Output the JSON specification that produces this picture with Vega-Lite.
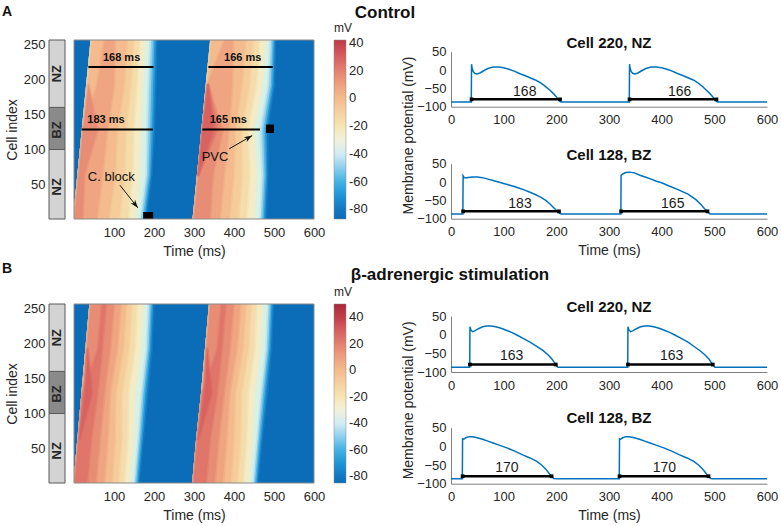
{
"$schema": "https://vega.github.io/schema/vega-lite/v6.json",
"padding": {"left": 2, "top": 4, "right": 2, "bottom": 2},
"config": {
 "font": "Liberation Sans",
 "view": {"stroke": null},
 "axis": {"labelColor": "#262626", "titleColor": "#262626", "labelFontSize": 13, "titleFontSize": 14, "titleFontWeight": "normal", "grid": false, "domainColor": "#808080", "tickColor": "#808080"},
 "legend": {"labelColor": "#262626", "titleColor": "#262626"},
 "title": {"color": "#111111"}
},
"datasets": {
 "zones": [
  {"c": 1, "c2": 100, "z": "NZ", "m": 47},
  {"c": 100, "c2": 160, "z": "BZ", "m": 128},
  {"c": 160, "c2": 256, "z": "NZ", "m": 208}
 ],
 "bg": [
  {"p": "A", "t": 0, "t2": 600, "c": 1, "c2": 256, "v": -87},
  {"p": "B", "t": 0, "t2": 600, "c": 1, "c2": 256, "v": -85}
 ],
 "heat": [
  {"p":"A","b":1,"v":-75,"c":1,"t":1,"t2":179},{"p":"A","b":1,"v":-75,"c":64,"t":12,"t2":193},{"p":"A","b":1,"v":-75,"c":128,"t":23,"t2":200},{"p":"A","b":1,"v":-75,"c":192,"t":34,"t2":203},{"p":"A","b":1,"v":-75,"c":256,"t":45,"t2":205.5},
  {"p":"A","b":1,"v":-65,"c":1,"t":1,"t2":175},{"p":"A","b":1,"v":-65,"c":64,"t":12,"t2":189.5},{"p":"A","b":1,"v":-65,"c":128,"t":23,"t2":195},{"p":"A","b":1,"v":-65,"c":192,"t":34,"t2":198},{"p":"A","b":1,"v":-65,"c":256,"t":45,"t2":201},
  {"p":"A","b":1,"v":-55,"c":1,"t":1,"t2":171.7},{"p":"A","b":1,"v":-55,"c":64,"t":12,"t2":186.6},{"p":"A","b":1,"v":-55,"c":128,"t":23,"t2":190.8},{"p":"A","b":1,"v":-55,"c":192,"t":34,"t2":193.8},{"p":"A","b":1,"v":-55,"c":256,"t":45,"t2":197.7},
  {"p":"A","b":1,"v":-45,"c":1,"t":1,"t2":167.4},{"p":"A","b":1,"v":-45,"c":64,"t":12,"t2":182.4},{"p":"A","b":1,"v":-45,"c":128,"t":23,"t2":185.6},{"p":"A","b":1,"v":-45,"c":192,"t":34,"t2":188.6},{"p":"A","b":1,"v":-45,"c":256,"t":45,"t2":193},
  {"p":"A","b":1,"v":-35,"c":1,"t":1,"t2":163},{"p":"A","b":1,"v":-35,"c":64,"t":12,"t2":178},{"p":"A","b":1,"v":-35,"c":128,"t":23,"t2":180},{"p":"A","b":1,"v":-35,"c":192,"t":34,"t2":183},{"p":"A","b":1,"v":-35,"c":256,"t":45,"t2":188},
  {"p":"A","b":1,"v":-25,"c":1,"t":1,"t2":153},{"p":"A","b":1,"v":-25,"c":64,"t":12,"t2":163},{"p":"A","b":1,"v":-25,"c":128,"t":23,"t2":165.7},{"p":"A","b":1,"v":-25,"c":192,"t":34,"t2":170.5},{"p":"A","b":1,"v":-25,"c":256,"t":45,"t2":177.2},
  {"p":"A","b":1,"v":-16,"c":1,"t":1,"t2":135},{"p":"A","b":1,"v":-16,"c":64,"t":12,"t2":145.5},{"p":"A","b":1,"v":-16,"c":128,"t":23,"t2":148},{"p":"A","b":1,"v":-16,"c":192,"t":34,"t2":156},{"p":"A","b":1,"v":-16,"c":256,"t":45,"t2":163},
  {"p":"A","b":1,"v":-8,"c":1,"t":1,"t2":113},{"p":"A","b":1,"v":-8,"c":64,"t":12,"t2":126.4},{"p":"A","b":1,"v":-8,"c":128,"t":23,"t2":129.1},{"p":"A","b":1,"v":-8,"c":192,"t":34,"t2":141.7},{"p":"A","b":1,"v":-8,"c":256,"t":45,"t2":148.5},
  {"p":"A","b":1,"v":0,"c":1,"t":1,"t2":86},{"p":"A","b":1,"v":0,"c":64,"t":12,"t2":102.5},{"p":"A","b":1,"v":0,"c":128,"t":23,"t2":107},{"p":"A","b":1,"v":0,"c":192,"t":34,"t2":125},{"p":"A","b":1,"v":0,"c":256,"t":45,"t2":131.9},
  {"p":"A","b":1,"v":8,"c":1,"t":1,"t2":56.5},{"p":"A","b":1,"v":8,"c":64,"t":12,"t2":71.1},{"p":"A","b":1,"v":8,"c":128,"t":23,"t2":83},{"p":"A","b":1,"v":8,"c":192,"t":58.3,"t2":100},{"p":"A","b":1,"v":8,"c":256,"t":76.7,"t2":101.7},
  {"p":"A","b":1,"v":16,"c":1,"t":1,"t2":21},{"p":"A","b":1,"v":16,"c":64,"t":12,"t2":26},{"p":"A","b":1,"v":16,"c":128,"t":23,"t2":59},{"p":"A","b":1,"v":16,"c":192,"t":36,"t2":36},
  {"p":"A","b":2,"v":-75,"c":1,"t":300,"t2":478.5},{"p":"A","b":2,"v":-75,"c":64,"t":311,"t2":483.5},{"p":"A","b":2,"v":-75,"c":128,"t":322,"t2":483},{"p":"A","b":2,"v":-75,"c":192,"t":333,"t2":499.5},{"p":"A","b":2,"v":-75,"c":256,"t":344,"t2":502.5},
  {"p":"A","b":2,"v":-65,"c":1,"t":300,"t2":474.2},{"p":"A","b":2,"v":-65,"c":64,"t":311,"t2":479.5},{"p":"A","b":2,"v":-65,"c":128,"t":322,"t2":478},{"p":"A","b":2,"v":-65,"c":192,"t":333,"t2":495.3},{"p":"A","b":2,"v":-65,"c":256,"t":344,"t2":498.7},
  {"p":"A","b":2,"v":-55,"c":1,"t":300,"t2":470.7},{"p":"A","b":2,"v":-55,"c":64,"t":311,"t2":476.6},{"p":"A","b":2,"v":-55,"c":128,"t":322,"t2":474},{"p":"A","b":2,"v":-55,"c":192,"t":333,"t2":492},{"p":"A","b":2,"v":-55,"c":256,"t":344,"t2":496},
  {"p":"A","b":2,"v":-45,"c":1,"t":300,"t2":466.9},{"p":"A","b":2,"v":-45,"c":64,"t":311,"t2":472.4},{"p":"A","b":2,"v":-45,"c":128,"t":322,"t2":469},{"p":"A","b":2,"v":-45,"c":192,"t":333,"t2":488.1},{"p":"A","b":2,"v":-45,"c":256,"t":344,"t2":492.7},
  {"p":"A","b":2,"v":-35,"c":1,"t":300,"t2":463},{"p":"A","b":2,"v":-35,"c":64,"t":311,"t2":468},{"p":"A","b":2,"v":-35,"c":128,"t":322,"t2":462.4},{"p":"A","b":2,"v":-35,"c":192,"t":333,"t2":482.6},{"p":"A","b":2,"v":-35,"c":256,"t":344,"t2":488},
  {"p":"A","b":2,"v":-25,"c":1,"t":300,"t2":450},{"p":"A","b":2,"v":-25,"c":64,"t":311,"t2":456.2},{"p":"A","b":2,"v":-25,"c":128,"t":322,"t2":448.9},{"p":"A","b":2,"v":-25,"c":192,"t":333,"t2":470},{"p":"A","b":2,"v":-25,"c":256,"t":344,"t2":478},
  {"p":"A","b":2,"v":-16,"c":1,"t":300,"t2":430},{"p":"A","b":2,"v":-16,"c":64,"t":311,"t2":438.6},{"p":"A","b":2,"v":-16,"c":128,"t":322,"t2":433.1},{"p":"A","b":2,"v":-16,"c":192,"t":333,"t2":455},{"p":"A","b":2,"v":-16,"c":256,"t":344,"t2":463},
  {"p":"A","b":2,"v":-8,"c":1,"t":300,"t2":410},{"p":"A","b":2,"v":-8,"c":64,"t":311,"t2":420},{"p":"A","b":2,"v":-8,"c":128,"t":322,"t2":418},{"p":"A","b":2,"v":-8,"c":192,"t":333,"t2":438.3},{"p":"A","b":2,"v":-8,"c":256,"t":344,"t2":447.5},
  {"p":"A","b":2,"v":0,"c":1,"t":300,"t2":388},{"p":"A","b":2,"v":0,"c":64,"t":311,"t2":399},{"p":"A","b":2,"v":0,"c":128,"t":322,"t2":402},{"p":"A","b":2,"v":0,"c":192,"t":333,"t2":419.1},{"p":"A","b":2,"v":0,"c":256,"t":344,"t2":428.8},
  {"p":"A","b":2,"v":8,"c":1,"t":300,"t2":363.8},{"p":"A","b":2,"v":8,"c":64,"t":311,"t2":375},{"p":"A","b":2,"v":8,"c":128,"t":322,"t2":386.5},{"p":"A","b":2,"v":8,"c":192,"t":333,"t2":395},{"p":"A","b":2,"v":8,"c":256,"t":376.7,"t2":397.5},
  {"p":"A","b":2,"v":16,"c":1,"t":300,"t2":339.2},{"p":"A","b":2,"v":16,"c":64,"t":311,"t2":347},{"p":"A","b":2,"v":16,"c":128,"t":322,"t2":371.7},{"p":"A","b":2,"v":16,"c":192,"t":335,"t2":335},
  {"p":"A","b":2,"v":23,"c":64,"t":311,"t2":311},{"p":"A","b":2,"v":23,"c":128,"t":322,"t2":358.3},{"p":"A","b":2,"v":23,"c":192,"t":335,"t2":335},
  {"p":"A","b":2,"v":29,"c":64,"t":311,"t2":311},{"p":"A","b":2,"v":29,"c":128,"t":322,"t2":348.3},{"p":"A","b":2,"v":29,"c":192,"t":335,"t2":335},
  {"p":"B","b":1,"v":-75,"c":1,"t":2,"t2":161},{"p":"B","b":1,"v":-75,"c":64,"t":12,"t2":172},{"p":"B","b":1,"v":-75,"c":128,"t":22,"t2":183},{"p":"B","b":1,"v":-75,"c":192,"t":32,"t2":193.5},{"p":"B","b":1,"v":-75,"c":256,"t":42,"t2":198},
  {"p":"B","b":1,"v":-65,"c":1,"t":2,"t2":157.7},{"p":"B","b":1,"v":-65,"c":64,"t":12,"t2":168.3},{"p":"B","b":1,"v":-65,"c":128,"t":22,"t2":178},{"p":"B","b":1,"v":-65,"c":192,"t":32,"t2":189.3},{"p":"B","b":1,"v":-65,"c":256,"t":42,"t2":194.3},
  {"p":"B","b":1,"v":-55,"c":1,"t":2,"t2":155},{"p":"B","b":1,"v":-55,"c":64,"t":12,"t2":165},{"p":"B","b":1,"v":-55,"c":128,"t":22,"t2":174},{"p":"B","b":1,"v":-55,"c":192,"t":32,"t2":186},{"p":"B","b":1,"v":-55,"c":256,"t":42,"t2":191},
  {"p":"B","b":1,"v":-45,"c":1,"t":2,"t2":151.5},{"p":"B","b":1,"v":-45,"c":64,"t":12,"t2":161.5},{"p":"B","b":1,"v":-45,"c":128,"t":22,"t2":170},{"p":"B","b":1,"v":-45,"c":192,"t":32,"t2":182.7},{"p":"B","b":1,"v":-45,"c":256,"t":42,"t2":187.7},
  {"p":"B","b":1,"v":-35,"c":1,"t":2,"t2":148},{"p":"B","b":1,"v":-35,"c":64,"t":12,"t2":158},{"p":"B","b":1,"v":-35,"c":128,"t":22,"t2":166},{"p":"B","b":1,"v":-35,"c":192,"t":32,"t2":178},{"p":"B","b":1,"v":-35,"c":256,"t":42,"t2":183.3},
  {"p":"B","b":1,"v":-25,"c":1,"t":2,"t2":138.7},{"p":"B","b":1,"v":-25,"c":64,"t":12,"t2":148},{"p":"B","b":1,"v":-25,"c":128,"t":22,"t2":151.7},{"p":"B","b":1,"v":-25,"c":192,"t":32,"t2":166.3},{"p":"B","b":1,"v":-25,"c":256,"t":42,"t2":172},
  {"p":"B","b":1,"v":-16,"c":1,"t":2,"t2":125},{"p":"B","b":1,"v":-16,"c":64,"t":12,"t2":133.3},{"p":"B","b":1,"v":-16,"c":128,"t":22,"t2":135},{"p":"B","b":1,"v":-16,"c":192,"t":32,"t2":151.4},{"p":"B","b":1,"v":-16,"c":256,"t":42,"t2":156.7},
  {"p":"B","b":1,"v":-8,"c":1,"t":2,"t2":110.8},{"p":"B","b":1,"v":-8,"c":64,"t":12,"t2":118.8},{"p":"B","b":1,"v":-8,"c":128,"t":22,"t2":119},{"p":"B","b":1,"v":-8,"c":192,"t":32,"t2":137.1},{"p":"B","b":1,"v":-8,"c":256,"t":42,"t2":143.6},
  {"p":"B","b":1,"v":0,"c":1,"t":2,"t2":94.2},{"p":"B","b":1,"v":0,"c":64,"t":12,"t2":102.1},{"p":"B","b":1,"v":0,"c":128,"t":22,"t2":103.3},{"p":"B","b":1,"v":0,"c":192,"t":32,"t2":122.5},{"p":"B","b":1,"v":0,"c":256,"t":42,"t2":130.3},
  {"p":"B","b":1,"v":8,"c":1,"t":2,"t2":75},{"p":"B","b":1,"v":8,"c":64,"t":12,"t2":83.8},{"p":"B","b":1,"v":8,"c":128,"t":22,"t2":89.3},{"p":"B","b":1,"v":8,"c":192,"t":32,"t2":107.5},{"p":"B","b":1,"v":8,"c":256,"t":42,"t2":116.8},
  {"p":"B","b":1,"v":16,"c":1,"t":2,"t2":54},{"p":"B","b":1,"v":16,"c":64,"t":12,"t2":64.5},{"p":"B","b":1,"v":16,"c":128,"t":22,"t2":75.3},{"p":"B","b":1,"v":16,"c":192,"t":32,"t2":90},{"p":"B","b":1,"v":16,"c":256,"t":42,"t2":100},
  {"p":"B","b":1,"v":23,"c":1,"t":2,"t2":32.7},{"p":"B","b":1,"v":23,"c":64,"t":12,"t2":42.7},{"p":"B","b":1,"v":23,"c":128,"t":22,"t2":58.5},{"p":"B","b":1,"v":23,"c":192,"t":60,"t2":70},{"p":"B","b":1,"v":23,"c":256,"t":70,"t2":80},
  {"p":"B","b":1,"v":29,"c":64,"t":14,"t2":14},{"p":"B","b":1,"v":29,"c":128,"t":28,"t2":44.6},{"p":"B","b":1,"v":29,"c":192,"t":34,"t2":34},
  {"p":"B","b":2,"v":-75,"c":1,"t":299,"t2":458},{"p":"B","b":2,"v":-75,"c":64,"t":309,"t2":469},{"p":"B","b":2,"v":-75,"c":128,"t":321,"t2":482},{"p":"B","b":2,"v":-75,"c":192,"t":331,"t2":492.5},{"p":"B","b":2,"v":-75,"c":256,"t":341,"t2":497},
  {"p":"B","b":2,"v":-65,"c":1,"t":299,"t2":454.7},{"p":"B","b":2,"v":-65,"c":64,"t":309,"t2":465.3},{"p":"B","b":2,"v":-65,"c":128,"t":321,"t2":477},{"p":"B","b":2,"v":-65,"c":192,"t":331,"t2":488.3},{"p":"B","b":2,"v":-65,"c":256,"t":341,"t2":493.3},
  {"p":"B","b":2,"v":-55,"c":1,"t":299,"t2":452},{"p":"B","b":2,"v":-55,"c":64,"t":309,"t2":462},{"p":"B","b":2,"v":-55,"c":128,"t":321,"t2":473},{"p":"B","b":2,"v":-55,"c":192,"t":331,"t2":485},{"p":"B","b":2,"v":-55,"c":256,"t":341,"t2":490},
  {"p":"B","b":2,"v":-45,"c":1,"t":299,"t2":448.5},{"p":"B","b":2,"v":-45,"c":64,"t":309,"t2":458.5},{"p":"B","b":2,"v":-45,"c":128,"t":321,"t2":469},{"p":"B","b":2,"v":-45,"c":192,"t":331,"t2":481.7},{"p":"B","b":2,"v":-45,"c":256,"t":341,"t2":486.7},
  {"p":"B","b":2,"v":-35,"c":1,"t":299,"t2":445},{"p":"B","b":2,"v":-35,"c":64,"t":309,"t2":455},{"p":"B","b":2,"v":-35,"c":128,"t":321,"t2":465},{"p":"B","b":2,"v":-35,"c":192,"t":331,"t2":477},{"p":"B","b":2,"v":-35,"c":256,"t":341,"t2":482.3},
  {"p":"B","b":2,"v":-25,"c":1,"t":299,"t2":435.7},{"p":"B","b":2,"v":-25,"c":64,"t":309,"t2":445},{"p":"B","b":2,"v":-25,"c":128,"t":321,"t2":450.7},{"p":"B","b":2,"v":-25,"c":192,"t":331,"t2":465.3},{"p":"B","b":2,"v":-25,"c":256,"t":341,"t2":471},
  {"p":"B","b":2,"v":-16,"c":1,"t":299,"t2":422},{"p":"B","b":2,"v":-16,"c":64,"t":309,"t2":430.3},{"p":"B","b":2,"v":-16,"c":128,"t":321,"t2":434},{"p":"B","b":2,"v":-16,"c":192,"t":331,"t2":450.4},{"p":"B","b":2,"v":-16,"c":256,"t":341,"t2":455.7},
  {"p":"B","b":2,"v":-8,"c":1,"t":299,"t2":407.8},{"p":"B","b":2,"v":-8,"c":64,"t":309,"t2":415.8},{"p":"B","b":2,"v":-8,"c":128,"t":321,"t2":418},{"p":"B","b":2,"v":-8,"c":192,"t":331,"t2":436.1},{"p":"B","b":2,"v":-8,"c":256,"t":341,"t2":442.6},
  {"p":"B","b":2,"v":0,"c":1,"t":299,"t2":391.2},{"p":"B","b":2,"v":0,"c":64,"t":309,"t2":399.1},{"p":"B","b":2,"v":0,"c":128,"t":321,"t2":402.3},{"p":"B","b":2,"v":0,"c":192,"t":331,"t2":421.5},{"p":"B","b":2,"v":0,"c":256,"t":341,"t2":429.3},
  {"p":"B","b":2,"v":8,"c":1,"t":299,"t2":372},{"p":"B","b":2,"v":8,"c":64,"t":309,"t2":380.8},{"p":"B","b":2,"v":8,"c":128,"t":321,"t2":388.3},{"p":"B","b":2,"v":8,"c":192,"t":331,"t2":406.5},{"p":"B","b":2,"v":8,"c":256,"t":341,"t2":415.8},
  {"p":"B","b":2,"v":16,"c":1,"t":299,"t2":351},{"p":"B","b":2,"v":16,"c":64,"t":309,"t2":361.5},{"p":"B","b":2,"v":16,"c":128,"t":321,"t2":374.3},{"p":"B","b":2,"v":16,"c":192,"t":331,"t2":389},{"p":"B","b":2,"v":16,"c":256,"t":341,"t2":399},
  {"p":"B","b":2,"v":23,"c":1,"t":299,"t2":329.7},{"p":"B","b":2,"v":23,"c":64,"t":309,"t2":339.7},{"p":"B","b":2,"v":23,"c":128,"t":321,"t2":357.5},{"p":"B","b":2,"v":23,"c":192,"t":359,"t2":369},{"p":"B","b":2,"v":23,"c":256,"t":369,"t2":379},
  {"p":"B","b":2,"v":29,"c":64,"t":311,"t2":311},{"p":"B","b":2,"v":29,"c":128,"t":327,"t2":343.6},{"p":"B","b":2,"v":29,"c":192,"t":333,"t2":333}
 ],
 "apd": [
  {"t": 36, "t2": 199, "c": 217.5},
  {"t": 336, "t2": 497, "c": 217.5},
  {"t": 19, "t2": 197, "c": 128.6},
  {"t": 321, "t2": 465, "c": 128.6}
 ],
 "apdlab": [
  {"t": 119, "c": 230.6, "s": "168 ms"},
  {"t": 421.7, "c": 230.6, "s": "166 ms"},
  {"t": 80, "c": 142.3, "s": "183 ms"},
  {"t": 385.8, "c": 142.3, "s": "165 ms"}
 ],
 "notes": [
  {"t": 93.3, "c": 60.8, "s": "C. block"},
  {"t": 352.5, "c": 89.3, "s": "PVC"}
 ],
 "blocks": [
  {"t": 173, "t2": 198, "c": 1, "c2": 11},
  {"t": 480, "t2": 500, "c": 123.5, "c2": 135.5}
 ],
 "arrows": [
  {"id": "cb", "t": 115, "c": 49, "t2": 159.5, "c2": 17},
  {"id": "pvc", "t": 388, "c": 101, "t2": 445.5, "c2": 119.8}
 ],
 "traces": [
  {"p":"A220","t":0,"v":-87},{"p":"A220","t":38.5,"v":-87},{"p":"A220","t":39,"v":16},{"p":"A220","t":40,"v":6},{"p":"A220","t":42,"v":-4},{"p":"A220","t":45,"v":-9},{"p":"A220","t":49,"v":-11},{"p":"A220","t":55,"v":-8},{"p":"A220","t":62,"v":-2},{"p":"A220","t":70,"v":4},{"p":"A220","t":80,"v":8},{"p":"A220","t":90,"v":8},{"p":"A220","t":100,"v":6},{"p":"A220","t":110,"v":2},{"p":"A220","t":120,"v":-3},{"p":"A220","t":131,"v":-10},{"p":"A220","t":140,"v":-15},{"p":"A220","t":150,"v":-21},{"p":"A220","t":160,"v":-27},{"p":"A220","t":169,"v":-34},{"p":"A220","t":178,"v":-43},{"p":"A220","t":188,"v":-55},{"p":"A220","t":195,"v":-65},{"p":"A220","t":201,"v":-75},{"p":"A220","t":205,"v":-83},{"p":"A220","t":209,"v":-87},
  {"p":"A220","t":338.5,"v":-87},{"p":"A220","t":339,"v":16},{"p":"A220","t":340,"v":6},{"p":"A220","t":342,"v":-4},{"p":"A220","t":345,"v":-9},{"p":"A220","t":349,"v":-11},{"p":"A220","t":355,"v":-8},{"p":"A220","t":362,"v":-2},{"p":"A220","t":370,"v":4},{"p":"A220","t":380,"v":8},{"p":"A220","t":390,"v":8},{"p":"A220","t":400,"v":6},{"p":"A220","t":410,"v":2},{"p":"A220","t":420,"v":-3},{"p":"A220","t":431,"v":-10},{"p":"A220","t":440,"v":-15},{"p":"A220","t":450,"v":-21},{"p":"A220","t":460,"v":-27},{"p":"A220","t":468,"v":-34},{"p":"A220","t":476,"v":-43},{"p":"A220","t":485,"v":-55},{"p":"A220","t":492,"v":-65},{"p":"A220","t":498,"v":-75},{"p":"A220","t":502,"v":-83},{"p":"A220","t":506,"v":-87},{"p":"A220","t":600,"v":-87},
  {"p":"A128","t":0,"v":-87},{"p":"A128","t":22.5,"v":-87},{"p":"A128","t":23,"v":17},{"p":"A128","t":25,"v":12},{"p":"A128","t":30,"v":12},{"p":"A128","t":40,"v":14},{"p":"A128","t":50,"v":14},{"p":"A128","t":60,"v":12},{"p":"A128","t":70,"v":8},{"p":"A128","t":80,"v":4},{"p":"A128","t":90,"v":0},{"p":"A128","t":100,"v":-4},{"p":"A128","t":110,"v":-8},{"p":"A128","t":120,"v":-12},{"p":"A128","t":130,"v":-17},{"p":"A128","t":140,"v":-22},{"p":"A128","t":150,"v":-28},{"p":"A128","t":160,"v":-34},{"p":"A128","t":170,"v":-41},{"p":"A128","t":180,"v":-50},{"p":"A128","t":188,"v":-60},{"p":"A128","t":195,"v":-70},{"p":"A128","t":200,"v":-77},{"p":"A128","t":205,"v":-84},{"p":"A128","t":209,"v":-87},
  {"p":"A128","t":322.5,"v":-87},{"p":"A128","t":323,"v":18},{"p":"A128","t":326,"v":22},{"p":"A128","t":332,"v":26},{"p":"A128","t":340,"v":27},{"p":"A128","t":348,"v":25},{"p":"A128","t":360,"v":18},{"p":"A128","t":370,"v":13},{"p":"A128","t":380,"v":8},{"p":"A128","t":390,"v":2},{"p":"A128","t":400,"v":-2},{"p":"A128","t":413,"v":-10},{"p":"A128","t":430,"v":-20},{"p":"A128","t":450,"v":-33},{"p":"A128","t":465,"v":-48},{"p":"A128","t":475,"v":-62},{"p":"A128","t":481,"v":-72},{"p":"A128","t":485,"v":-78},{"p":"A128","t":488,"v":-83},{"p":"A128","t":492,"v":-87},{"p":"A128","t":600,"v":-87},
  {"p":"B220","t":0,"v":-87},{"p":"B220","t":35.5,"v":-87},{"p":"B220","t":36,"v":21},{"p":"B220","t":38,"v":12},{"p":"B220","t":41,"v":8},{"p":"B220","t":45,"v":10},{"p":"B220","t":52,"v":16},{"p":"B220","t":60,"v":21},{"p":"B220","t":68,"v":23},{"p":"B220","t":76,"v":23},{"p":"B220","t":85,"v":21},{"p":"B220","t":95,"v":17},{"p":"B220","t":105,"v":12},{"p":"B220","t":115,"v":6},{"p":"B220","t":125,"v":-1},{"p":"B220","t":137,"v":-10},{"p":"B220","t":150,"v":-20},{"p":"B220","t":162,"v":-31},{"p":"B220","t":175,"v":-43},{"p":"B220","t":185,"v":-55},{"p":"B220","t":192,"v":-66},{"p":"B220","t":196,"v":-74},{"p":"B220","t":199,"v":-81},{"p":"B220","t":203,"v":-87},
  {"p":"B220","t":335.5,"v":-87},{"p":"B220","t":336,"v":21},{"p":"B220","t":338,"v":12},{"p":"B220","t":341,"v":8},{"p":"B220","t":345,"v":10},{"p":"B220","t":352,"v":16},{"p":"B220","t":360,"v":21},{"p":"B220","t":368,"v":23},{"p":"B220","t":376,"v":23},{"p":"B220","t":385,"v":21},{"p":"B220","t":395,"v":17},{"p":"B220","t":405,"v":12},{"p":"B220","t":415,"v":6},{"p":"B220","t":425,"v":-1},{"p":"B220","t":437,"v":-10},{"p":"B220","t":450,"v":-20},{"p":"B220","t":461,"v":-31},{"p":"B220","t":473,"v":-43},{"p":"B220","t":483,"v":-55},{"p":"B220","t":490,"v":-66},{"p":"B220","t":494,"v":-74},{"p":"B220","t":497,"v":-81},{"p":"B220","t":501,"v":-87},{"p":"B220","t":600,"v":-87},
  {"p":"B128","t":0,"v":-87},{"p":"B128","t":21.5,"v":-87},{"p":"B128","t":22,"v":20},{"p":"B128","t":24,"v":19},{"p":"B128","t":28,"v":23},{"p":"B128","t":34,"v":26},{"p":"B128","t":40,"v":26},{"p":"B128","t":48,"v":24},{"p":"B128","t":60,"v":19},{"p":"B128","t":70,"v":14},{"p":"B128","t":80,"v":9},{"p":"B128","t":90,"v":4},{"p":"B128","t":106,"v":-4},{"p":"B128","t":120,"v":-12},{"p":"B128","t":135,"v":-22},{"p":"B128","t":150,"v":-31},{"p":"B128","t":163,"v":-40},{"p":"B128","t":172,"v":-50},{"p":"B128","t":180,"v":-61},{"p":"B128","t":186,"v":-72},{"p":"B128","t":191,"v":-81},{"p":"B128","t":195,"v":-86},{"p":"B128","t":200,"v":-87},
  {"p":"B128","t":319.5,"v":-87},{"p":"B128","t":320,"v":20},{"p":"B128","t":322,"v":19},{"p":"B128","t":326,"v":23},{"p":"B128","t":332,"v":26},{"p":"B128","t":338,"v":26},{"p":"B128","t":346,"v":24},{"p":"B128","t":358,"v":19},{"p":"B128","t":368,"v":14},{"p":"B128","t":378,"v":9},{"p":"B128","t":388,"v":4},{"p":"B128","t":404,"v":-4},{"p":"B128","t":418,"v":-12},{"p":"B128","t":433,"v":-22},{"p":"B128","t":448,"v":-31},{"p":"B128","t":461,"v":-40},{"p":"B128","t":470,"v":-50},{"p":"B128","t":478,"v":-61},{"p":"B128","t":484,"v":-72},{"p":"B128","t":489,"v":-81},{"p":"B128","t":493,"v":-86},{"p":"B128","t":498,"v":-87},{"p":"B128","t":600,"v":-87}
 ],
 "bars": [
  {"p": "A220", "t": 39, "t2": 207, "lab": "168", "tl": 140},
  {"p": "A220", "t": 339, "t2": 504, "lab": "166", "tl": 434},
  {"p": "A128", "t": 23, "t2": 205, "lab": "183", "tl": 131},
  {"p": "A128", "t": 323, "t2": 487, "lab": "165", "tl": 421},
  {"p": "B220", "t": 36, "t2": 199, "lab": "163", "tl": 115},
  {"p": "B220", "t": 336, "t2": 497, "lab": "163", "tl": 419},
  {"p": "B128", "t": 22, "t2": 191, "lab": "170", "tl": 106},
  {"p": "B128", "t": 320, "t2": 489, "lab": "170", "tl": 405}
 ]
},
"bounds": "flush",
"spacing": 264,
"resolve": {"scale": {"color": "independent", "stroke": "independent"}, "legend": {"color": "independent", "stroke": "independent"}},
"vconcat": [
 {
  "bounds": "flush",
  "spacing": 402,
  "resolve": {"scale": {"color": "independent", "stroke": "independent"}, "legend": {"color": "independent", "stroke": "independent"}},
  "hconcat": [
   {
    "bounds": "flush",
    "spacing": 9,
    "resolve": {"scale": {"color": "independent", "stroke": "independent"}, "legend": {"color": "independent", "stroke": "independent"}},
    "hconcat": [
     {
      "width": 16, "height": 179,
      "title": {"text": "A", "anchor": "start", "frame": "group", "dx": -47, "offset": 8, "baseline": "alphabetic", "fontSize": 14, "fontWeight": "bold"},
      "data": {"name": "zones"},
      "layer": [
       {"mark": {"type": "rect", "stroke": "#595959", "strokeWidth": 1},
        "encoding": {
         "y": {"field": "c", "type": "quantitative", "scale": {"domain": [1, 256], "nice": false, "zero": false}, "axis": {"orient": "left", "values": [50, 100, 150, 200, 250], "title": "Cell index", "labelPadding": 4, "titlePadding": 4, "domain": false, "ticks": false, "labelFlush": false, "labelOverlap": false}},
         "y2": {"field": "c2"},
         "fill": {"field": "z", "type": "nominal", "scale": {"domain": ["NZ", "BZ"], "range": ["#d3d3d3", "#8a8a8a"]}, "legend": null}
        }},
       {"mark": {"type": "text", "angle": 270, "fontSize": 13, "fontWeight": "bold", "color": "#262626"},
        "encoding": {"y": {"field": "m", "type": "quantitative"}, "text": {"field": "z"}}}
      ]
     },
     {
      "width": 240, "height": 179,
      "layer": [
       {"data": {"name": "bg"}, "transform": [{"filter": "datum.p == 'A'"}],
        "mark": {"type": "rect"},
        "encoding": {
         "x": {"field": "t", "type": "quantitative", "scale": {"domain": [0, 600], "nice": false, "zero": false}, "axis": {"orient": "bottom", "values": [100, 200, 300, 400, 500, 600], "title": "Time (ms)", "labelPadding": 7, "titlePadding": 5, "domain": false, "ticks": false, "labelFlush": false, "labelOverlap": false}},
         "x2": {"field": "t2"},
         "y": {"field": "c", "type": "quantitative", "scale": {"domain": [1, 256], "nice": false, "zero": false}, "axis": null},
         "y2": {"field": "c2"},
         "color": {"field": "v", "type": "quantitative",
          "scale": {"domain": [-87, -80, -70, -60, -50, -40, -30, -20, -10, 0, 10, 20, 30, 40, 42], "range": ["#0b6cb8", "#1277c2", "#1e95d6", "#45b2e4", "#8dd0ee", "#d2ecf4", "#f2f1da", "#f6e5b4", "#f5d19f", "#f3bb8e", "#eea07f", "#e4806f", "#d65f5f", "#c23e4b", "#bd3747"]},
          "legend": {"title": "mV", "type": "gradient", "orient": "none", "legendX": 260, "legendY": -17, "direction": "vertical", "gradientLength": 179, "gradientThickness": 12, "values": [-80, -60, -40, -20, 0, 20, 40], "labelExpr": "'' + datum.value", "labelFontSize": 13, "titleFontSize": 12, "titleFontWeight": "normal", "titlePadding": 5, "labelOffset": 3, "labelOverlap": false, "gradientStrokeColor": "#8a8a8a", "gradientStrokeWidth": 0.5}}
        }},
       {"data": {"name": "heat"}, "transform": [{"filter": "datum.p == 'A'"}],
        "mark": {"type": "area", "orient": "horizontal", "interpolate": "linear", "clip": true, "strokeWidth": 3, "strokeOpacity": 0.5, "strokeJoin": "round"},
        "encoding": {
         "y": {"field": "c", "type": "quantitative", "axis": null},
         "x": {"field": "t", "type": "quantitative", "stack": null},
         "x2": {"field": "t2"},
         "color": {"field": "v", "type": "quantitative",
          "scale": {"domain": [-87, -80, -70, -60, -50, -40, -30, -20, -10, 0, 10, 20, 30, 40, 42], "range": ["#0b6cb8", "#1277c2", "#1e95d6", "#45b2e4", "#8dd0ee", "#d2ecf4", "#f2f1da", "#f6e5b4", "#f5d19f", "#f3bb8e", "#eea07f", "#e4806f", "#d65f5f", "#c23e4b", "#bd3747"]},
          "legend": null},
         "stroke": {"field": "v", "type": "quantitative",
          "scale": {"domain": [-87.01, -80.01, -70.01, -60.01, -50.01, -40.01, -30.01, -20.01, -10.01, -0.01, 9.99, 19.99, 29.99, 39.99, 41.99], "range": ["#0b6cb8", "#1277c2", "#1e95d6", "#45b2e4", "#8dd0ee", "#d2ecf4", "#f2f1da", "#f6e5b4", "#f5d19f", "#f3bb8e", "#eea07f", "#e4806f", "#d65f5f", "#c23e4b", "#bd3747"]},
          "legend": null},
         "detail": {"field": "b"}
        }},
       {"data": {"name": "apd"},
        "mark": {"type": "rule", "color": "#000000", "strokeWidth": 2},
        "encoding": {"x": {"field": "t", "type": "quantitative"}, "x2": {"field": "t2"}, "y": {"field": "c", "type": "quantitative", "axis": null}}},
       {"data": {"name": "apdlab"},
        "mark": {"type": "text", "fontSize": 11, "fontWeight": "bold", "color": "#111111"},
        "encoding": {"x": {"field": "t", "type": "quantitative"}, "y": {"field": "c", "type": "quantitative", "axis": null}, "text": {"field": "s"}}},
       {"data": {"name": "notes"},
        "mark": {"type": "text", "fontSize": 13, "color": "#111111"},
        "encoding": {"x": {"field": "t", "type": "quantitative"}, "y": {"field": "c", "type": "quantitative", "axis": null}, "text": {"field": "s"}}},
       {"data": {"name": "blocks"},
        "mark": {"type": "rect", "color": "#000000"},
        "encoding": {"x": {"field": "t", "type": "quantitative"}, "x2": {"field": "t2"}, "y": {"field": "c", "type": "quantitative", "axis": null}, "y2": {"field": "c2"}}},
       {"data": {"name": "arrows"},
        "mark": {"type": "rule", "color": "#111111", "strokeWidth": 1},
        "encoding": {"x": {"field": "t", "type": "quantitative"}, "x2": {"field": "t2"}, "y": {"field": "c", "type": "quantitative", "axis": null}, "y2": {"field": "c2"}}},
       {"data": {"name": "arrows"}, "transform": [{"filter": "datum.id == 'cb'"}],
        "mark": {"type": "point", "shape": "M0,0L0.6,1.7L0,1.2L-0.6,1.7Z", "filled": true, "color": "#111111", "size": 90, "angle": 142, "opacity": 1},
        "encoding": {"x": {"field": "t2", "type": "quantitative"}, "y": {"field": "c2", "type": "quantitative", "axis": null}}},
       {"data": {"name": "arrows"}, "transform": [{"filter": "datum.id == 'pvc'"}],
        "mark": {"type": "point", "shape": "M0,0L0.6,1.7L0,1.2L-0.6,1.7Z", "filled": true, "color": "#111111", "size": 90, "angle": 60, "opacity": 1},
        "encoding": {"x": {"field": "t2", "type": "quantitative"}, "y": {"field": "c2", "type": "quantitative", "axis": null}}},
       {"data": {"name": "bg"}, "transform": [{"filter": "datum.p == 'A'"}],
        "mark": {"type": "rect", "fillOpacity": 0, "stroke": "#8a8a8a", "strokeWidth": 1},
        "encoding": {"x": {"field": "t", "type": "quantitative"}, "x2": {"field": "t2"}, "y": {"field": "c", "type": "quantitative", "axis": null}, "y2": {"field": "c2"}}}
      ]
     }
    ]
   },
   {
    "bounds": "flush",
    "spacing": 10.7,
    "vconcat": [
     {"width": 316, "height": 1, "data": {"values": []}, "mark": "point", "encoding": {},
      "title": {"text": "Control", "fontSize": 17, "fontWeight": "bold", "anchor": "middle", "dx": -224, "offset": 5, "baseline": "alphabetic"}},
     {
      "bounds": "flush",
      "spacing": 57,
      "vconcat": [
       {
        "width": 316, "height": 55,
        "title": {"text": "Cell 220, NZ", "fontSize": 15, "fontWeight": "bold", "offset": -17.5, "baseline": "alphabetic"},
        "layer": [
         {"data": {"name": "traces"}, "transform": [{"filter": "datum.p == 'A220'"}],
          "mark": {"type": "line", "color": "#0072bd", "strokeWidth": 1.5},
          "encoding": {
           "x": {"field": "t", "type": "quantitative", "scale": {"domain": [0, 600], "nice": false, "zero": false}, "axis": {"orient": "bottom", "values": [0, 100, 200, 300, 400, 500, 600], "title": null, "labelPadding": 7, "ticks": false, "labelFlush": false, "labelOverlap": false}},
           "y": {"field": "v", "type": "quantitative", "scale": {"domain": [-100, 50], "nice": false, "zero": false}, "axis": {"orient": "left", "values": [-100, -50, 0, 50], "tickCount": 4, "title": "Membrane potential (mV)", "labelPadding": 5, "ticks": false, "labelFlush": false, "labelOverlap": false, "labelBound": false, "titleX": -42.5, "titleY": 83.3, "titleAngle": 270, "titleAlign": "center", "titleBaseline": "middle"}}
          }},
         {"data": {"name": "bars"}, "transform": [{"filter": "datum.p == 'A220'"}],
          "mark": {"type": "rule", "color": "#000000", "strokeWidth": 2.5},
          "encoding": {"x": {"field": "t", "type": "quantitative"}, "x2": {"field": "t2"}, "y": {"datum": -80, "type": "quantitative"}}},
         {"data": {"name": "bars"}, "transform": [{"filter": "datum.p == 'A220'"}],
          "mark": {"type": "point", "shape": "square", "filled": true, "color": "#000000", "size": 14, "opacity": 1},
          "encoding": {"x": {"field": "t", "type": "quantitative"}, "y": {"datum": -80, "type": "quantitative"}}},
         {"data": {"name": "bars"}, "transform": [{"filter": "datum.p == 'A220'"}],
          "mark": {"type": "point", "shape": "square", "filled": true, "color": "#000000", "size": 14, "opacity": 1},
          "encoding": {"x": {"field": "t2", "type": "quantitative"}, "y": {"datum": -80, "type": "quantitative"}}},
         {"data": {"name": "bars"}, "transform": [{"filter": "datum.p == 'A220'"}],
          "mark": {"type": "text", "fontSize": 14, "color": "#1a1a1a"},
          "encoding": {"x": {"field": "tl", "type": "quantitative"}, "y": {"datum": -59, "type": "quantitative"}, "text": {"field": "lab"}}}
        ]
       },
       {
        "width": 316, "height": 55,
        "title": {"text": "Cell 128, BZ", "fontSize": 15, "fontWeight": "bold", "offset": -17.5, "baseline": "alphabetic"},
        "layer": [
         {"data": {"name": "traces"}, "transform": [{"filter": "datum.p == 'A128'"}],
          "mark": {"type": "line", "color": "#0072bd", "strokeWidth": 1.5},
          "encoding": {
           "x": {"field": "t", "type": "quantitative", "scale": {"domain": [0, 600], "nice": false, "zero": false}, "axis": {"orient": "bottom", "values": [0, 100, 200, 300, 400, 500, 600], "title": "Time (ms)", "labelPadding": 7, "titlePadding": 5, "ticks": false, "labelFlush": false, "labelOverlap": false}},
           "y": {"field": "v", "type": "quantitative", "scale": {"domain": [-100, 50], "nice": false, "zero": false}, "axis": {"orient": "left", "values": [-100, -50, 0, 50], "tickCount": 4, "title": null, "labelPadding": 5, "ticks": false, "labelFlush": false, "labelOverlap": false, "labelBound": false}}
          }},
         {"data": {"name": "bars"}, "transform": [{"filter": "datum.p == 'A128'"}],
          "mark": {"type": "rule", "color": "#000000", "strokeWidth": 2.5},
          "encoding": {"x": {"field": "t", "type": "quantitative"}, "x2": {"field": "t2"}, "y": {"datum": -80, "type": "quantitative"}}},
         {"data": {"name": "bars"}, "transform": [{"filter": "datum.p == 'A128'"}],
          "mark": {"type": "point", "shape": "square", "filled": true, "color": "#000000", "size": 14, "opacity": 1},
          "encoding": {"x": {"field": "t", "type": "quantitative"}, "y": {"datum": -80, "type": "quantitative"}}},
         {"data": {"name": "bars"}, "transform": [{"filter": "datum.p == 'A128'"}],
          "mark": {"type": "point", "shape": "square", "filled": true, "color": "#000000", "size": 14, "opacity": 1},
          "encoding": {"x": {"field": "t2", "type": "quantitative"}, "y": {"datum": -80, "type": "quantitative"}}},
         {"data": {"name": "bars"}, "transform": [{"filter": "datum.p == 'A128'"}],
          "mark": {"type": "text", "fontSize": 14, "color": "#1a1a1a"},
          "encoding": {"x": {"field": "tl", "type": "quantitative"}, "y": {"datum": -59, "type": "quantitative"}, "text": {"field": "lab"}}}
        ]
       }
      ]
     }
    ]
   }
  ]
 },
 {
  "bounds": "flush",
  "spacing": 402,
  "resolve": {"scale": {"color": "independent", "stroke": "independent"}, "legend": {"color": "independent", "stroke": "independent"}},
  "hconcat": [
   {
    "bounds": "flush",
    "spacing": 9,
    "resolve": {"scale": {"color": "independent", "stroke": "independent"}, "legend": {"color": "independent", "stroke": "independent"}},
    "hconcat": [
     {
      "width": 16, "height": 179,
      "title": {"text": "B", "anchor": "start", "frame": "group", "dx": -47, "offset": 15, "baseline": "alphabetic", "fontSize": 14, "fontWeight": "bold"},
      "data": {"name": "zones"},
      "layer": [
       {"mark": {"type": "rect", "stroke": "#595959", "strokeWidth": 1},
        "encoding": {
         "y": {"field": "c", "type": "quantitative", "scale": {"domain": [1, 256], "nice": false, "zero": false}, "axis": {"orient": "left", "values": [50, 100, 150, 200, 250], "title": "Cell index", "labelPadding": 4, "titlePadding": 4, "domain": false, "ticks": false, "labelFlush": false, "labelOverlap": false}},
         "y2": {"field": "c2"},
         "fill": {"field": "z", "type": "nominal", "scale": {"domain": ["NZ", "BZ"], "range": ["#d3d3d3", "#8a8a8a"]}, "legend": null}
        }},
       {"mark": {"type": "text", "angle": 270, "fontSize": 13, "fontWeight": "bold", "color": "#262626"},
        "encoding": {"y": {"field": "m", "type": "quantitative"}, "text": {"field": "z"}}}
      ]
     },
     {
      "width": 240, "height": 179,
      "layer": [
       {"data": {"name": "bg"}, "transform": [{"filter": "datum.p == 'B'"}],
        "mark": {"type": "rect"},
        "encoding": {
         "x": {"field": "t", "type": "quantitative", "scale": {"domain": [0, 600], "nice": false, "zero": false}, "axis": {"orient": "bottom", "values": [100, 200, 300, 400, 500, 600], "title": "Time (ms)", "labelPadding": 7, "titlePadding": 5, "domain": false, "ticks": false, "labelFlush": false, "labelOverlap": false}},
         "x2": {"field": "t2"},
         "y": {"field": "c", "type": "quantitative", "scale": {"domain": [1, 256], "nice": false, "zero": false}, "axis": null},
         "y2": {"field": "c2"},
         "color": {"field": "v", "type": "quantitative",
          "scale": {"domain": [-85, -80, -70, -60, -50, -40, -30, -20, -10, 0, 10, 20, 30, 40, 50], "range": ["#0b6cb8", "#1277c2", "#1e95d6", "#45b2e4", "#8dd0ee", "#d2ecf4", "#f2f1da", "#f6e5b4", "#f5d19f", "#f3bb8e", "#eea07f", "#e4806f", "#d65f5f", "#c23e4b", "#a82838"]},
          "legend": {"title": "mV", "type": "gradient", "orient": "none", "legendX": 260, "legendY": -17, "direction": "vertical", "gradientLength": 179, "gradientThickness": 12, "values": [-80, -60, -40, -20, 0, 20, 40], "labelExpr": "'' + datum.value", "labelFontSize": 13, "titleFontSize": 12, "titleFontWeight": "normal", "titlePadding": 5, "labelOffset": 3, "labelOverlap": false, "gradientStrokeColor": "#8a8a8a", "gradientStrokeWidth": 0.5}}
        }},
       {"data": {"name": "heat"}, "transform": [{"filter": "datum.p == 'B'"}],
        "mark": {"type": "area", "orient": "horizontal", "interpolate": "linear", "clip": true, "strokeWidth": 3, "strokeOpacity": 0.5, "strokeJoin": "round"},
        "encoding": {
         "y": {"field": "c", "type": "quantitative", "axis": null},
         "x": {"field": "t", "type": "quantitative", "stack": null},
         "x2": {"field": "t2"},
         "color": {"field": "v", "type": "quantitative",
          "scale": {"domain": [-85, -80, -70, -60, -50, -40, -30, -20, -10, 0, 10, 20, 30, 40, 50], "range": ["#0b6cb8", "#1277c2", "#1e95d6", "#45b2e4", "#8dd0ee", "#d2ecf4", "#f2f1da", "#f6e5b4", "#f5d19f", "#f3bb8e", "#eea07f", "#e4806f", "#d65f5f", "#c23e4b", "#a82838"]},
          "legend": null},
         "stroke": {"field": "v", "type": "quantitative",
          "scale": {"domain": [-85.01, -80.01, -70.01, -60.01, -50.01, -40.01, -30.01, -20.01, -10.01, -0.01, 9.99, 19.99, 29.99, 39.99, 49.99], "range": ["#0b6cb8", "#1277c2", "#1e95d6", "#45b2e4", "#8dd0ee", "#d2ecf4", "#f2f1da", "#f6e5b4", "#f5d19f", "#f3bb8e", "#eea07f", "#e4806f", "#d65f5f", "#c23e4b", "#a82838"]},
          "legend": null},
         "detail": {"field": "b"}
        }},
       {"data": {"name": "bg"}, "transform": [{"filter": "datum.p == 'B'"}],
        "mark": {"type": "rect", "fillOpacity": 0, "stroke": "#8a8a8a", "strokeWidth": 1},
        "encoding": {"x": {"field": "t", "type": "quantitative"}, "x2": {"field": "t2"}, "y": {"field": "c", "type": "quantitative", "axis": null}, "y2": {"field": "c2"}}}
      ]
     }
    ]
   },
   {
    "bounds": "flush",
    "spacing": 11,
    "vconcat": [
     {"width": 316, "height": 1, "data": {"values": []}, "mark": "point", "encoding": {},
      "title": {"text": "β-adrenergic stimulation", "fontSize": 17, "fontWeight": "bold", "anchor": "middle", "dx": -159, "offset": 7, "baseline": "alphabetic"}},
     {
      "bounds": "flush",
      "spacing": 55.7,
      "vconcat": [
       {
        "width": 316, "height": 56,
        "title": {"text": "Cell 220, NZ", "fontSize": 15, "fontWeight": "bold", "offset": -16.5, "baseline": "alphabetic"},
        "layer": [
         {"data": {"name": "traces"}, "transform": [{"filter": "datum.p == 'B220'"}],
          "mark": {"type": "line", "color": "#0072bd", "strokeWidth": 1.5},
          "encoding": {
           "x": {"field": "t", "type": "quantitative", "scale": {"domain": [0, 600], "nice": false, "zero": false}, "axis": {"orient": "bottom", "values": [0, 100, 200, 300, 400, 500, 600], "title": null, "labelPadding": 7, "ticks": false, "labelFlush": false, "labelOverlap": false}},
           "y": {"field": "v", "type": "quantitative", "scale": {"domain": [-100, 50], "nice": false, "zero": false}, "axis": {"orient": "left", "values": [-100, -50, 0, 50], "tickCount": 4, "title": "Membrane potential (mV)", "labelPadding": 5, "ticks": false, "labelFlush": false, "labelOverlap": false, "labelBound": false, "titleX": -42.5, "titleY": 83.9, "titleAngle": 270, "titleAlign": "center", "titleBaseline": "middle"}}
          }},
         {"data": {"name": "bars"}, "transform": [{"filter": "datum.p == 'B220'"}],
          "mark": {"type": "rule", "color": "#000000", "strokeWidth": 2.5},
          "encoding": {"x": {"field": "t", "type": "quantitative"}, "x2": {"field": "t2"}, "y": {"datum": -80, "type": "quantitative"}}},
         {"data": {"name": "bars"}, "transform": [{"filter": "datum.p == 'B220'"}],
          "mark": {"type": "point", "shape": "square", "filled": true, "color": "#000000", "size": 14, "opacity": 1},
          "encoding": {"x": {"field": "t", "type": "quantitative"}, "y": {"datum": -80, "type": "quantitative"}}},
         {"data": {"name": "bars"}, "transform": [{"filter": "datum.p == 'B220'"}],
          "mark": {"type": "point", "shape": "square", "filled": true, "color": "#000000", "size": 14, "opacity": 1},
          "encoding": {"x": {"field": "t2", "type": "quantitative"}, "y": {"datum": -80, "type": "quantitative"}}},
         {"data": {"name": "bars"}, "transform": [{"filter": "datum.p == 'B220'"}],
          "mark": {"type": "text", "fontSize": 14, "color": "#1a1a1a"},
          "encoding": {"x": {"field": "tl", "type": "quantitative"}, "y": {"datum": -57, "type": "quantitative"}, "text": {"field": "lab"}}}
        ]
       },
       {
        "width": 316, "height": 56,
        "title": {"text": "Cell 128, BZ", "fontSize": 15, "fontWeight": "bold", "offset": -16.5, "baseline": "alphabetic"},
        "layer": [
         {"data": {"name": "traces"}, "transform": [{"filter": "datum.p == 'B128'"}],
          "mark": {"type": "line", "color": "#0072bd", "strokeWidth": 1.5},
          "encoding": {
           "x": {"field": "t", "type": "quantitative", "scale": {"domain": [0, 600], "nice": false, "zero": false}, "axis": {"orient": "bottom", "values": [0, 100, 200, 300, 400, 500, 600], "title": "Time (ms)", "labelPadding": 7, "titlePadding": 5, "ticks": false, "labelFlush": false, "labelOverlap": false}},
           "y": {"field": "v", "type": "quantitative", "scale": {"domain": [-100, 50], "nice": false, "zero": false}, "axis": {"orient": "left", "values": [-100, -50, 0, 50], "tickCount": 4, "title": null, "labelPadding": 5, "ticks": false, "labelFlush": false, "labelOverlap": false, "labelBound": false}}
          }},
         {"data": {"name": "bars"}, "transform": [{"filter": "datum.p == 'B128'"}],
          "mark": {"type": "rule", "color": "#000000", "strokeWidth": 2.5},
          "encoding": {"x": {"field": "t", "type": "quantitative"}, "x2": {"field": "t2"}, "y": {"datum": -80, "type": "quantitative"}}},
         {"data": {"name": "bars"}, "transform": [{"filter": "datum.p == 'B128'"}],
          "mark": {"type": "point", "shape": "square", "filled": true, "color": "#000000", "size": 14, "opacity": 1},
          "encoding": {"x": {"field": "t", "type": "quantitative"}, "y": {"datum": -80, "type": "quantitative"}}},
         {"data": {"name": "bars"}, "transform": [{"filter": "datum.p == 'B128'"}],
          "mark": {"type": "point", "shape": "square", "filled": true, "color": "#000000", "size": 14, "opacity": 1},
          "encoding": {"x": {"field": "t2", "type": "quantitative"}, "y": {"datum": -80, "type": "quantitative"}}},
         {"data": {"name": "bars"}, "transform": [{"filter": "datum.p == 'B128'"}],
          "mark": {"type": "text", "fontSize": 14, "color": "#1a1a1a"},
          "encoding": {"x": {"field": "tl", "type": "quantitative"}, "y": {"datum": -57, "type": "quantitative"}, "text": {"field": "lab"}}}
        ]
       }
      ]
     }
    ]
   }
  ]
 }
]
}
